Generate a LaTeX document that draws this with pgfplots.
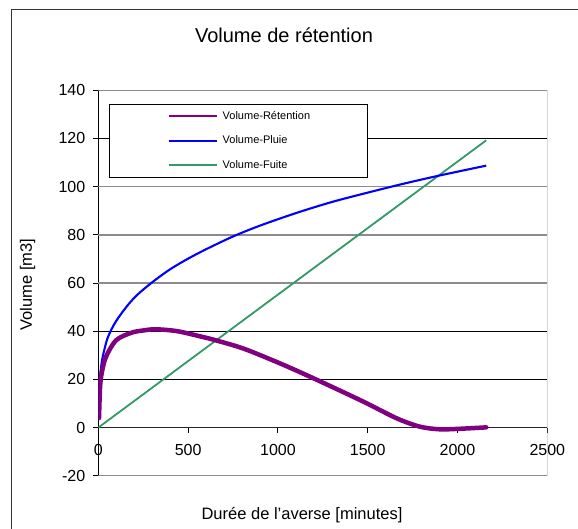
\documentclass[border=0pt]{standalone}
\usepackage{fontspec}
\setmainfont{Liberation Sans}
\usepackage{pgfplots}
\pgfplotsset{compat=1.18}
\definecolor{retcol}{RGB}{128,0,128}
\definecolor{pluiecol}{RGB}{0,0,255}
\definecolor{fuitecol}{RGB}{51,153,102}
\begin{document}
\begin{tikzpicture}[x=1pt,y=1pt]
\useasboundingbox (0,0) rectangle (578,528);
\clip (0,0) rectangle (578,528);
\fill[white] (0,0) rectangle (578,528);
\draw[black!80, line width=1pt] (11,-10) rectangle (600,518);
\node[font=\fontsize{20}{24}\selectfont] at (284,492.6) {Volume de rétention};
\node[font=\fontsize{16.5}{20}\selectfont] at (302,13) {Durée de l'averse [minutes]};
\node[font=\fontsize{16.5}{20}\selectfont, rotate=90] at (27.6,243.5) {Volume [m3]};
\begin{axis}[
  at={(98.3pt,52.2pt)}, anchor=south west,
  scale only axis, width=449pt, height=385.6pt,
  xmin=0, xmax=2500, ymin=-20, ymax=140,
  axis x line*=middle, axis y line*=left,
  x axis line style={-, black!85, line width=1pt},
  y axis line style={-, black, line width=1.4pt},
  xtick={0,500,...,2500}, ytick={-20,0,...,140},
  hide obscured x ticks=false, hide obscured y ticks=false,
  tick align=outside, major tick length=5.5pt,
  tick style={black, line width=0.9pt},
  tick label style={font=\fontsize{16}{19}\selectfont},
  xticklabel style={yshift=-8pt},
  yticklabel style={xshift=-4pt},
  /pgf/number format/assume math mode=true,
  /pgf/number format/1000 sep={},
  scaled ticks=false,
  ymajorgrids, major grid style={black, line width=0.7pt},
  extra y ticks={60,80,100}, extra y tick labels={},
  extra y tick style={grid=major, major grid style={gray!90, line width=1.6pt}},
  legend style={at={(0.0245,0.9642)}, anchor=north west, draw=black, fill=white,
    line width=0.8pt, inner xsep=0pt, inner ysep=5pt, row sep=11pt, column sep=3pt,
    font=\fontsize{11}{13}\selectfont},
  legend cell align=left,
  legend image code/.code={\path (-58pt,0pt); \draw[#1] (0pt,0pt) -- (48pt,0pt);},
]
\addlegendimage{retcol, line width=2pt}
\addlegendentry{\makebox[143pt][l]{Volume-Rétention}}
\addlegendimage{pluiecol, line width=2pt}
\addlegendentry{\makebox[143pt][l]{Volume-Pluie}}
\addlegendimage{fuitecol, line width=2pt}
\addlegendentry{\makebox[143pt][l]{Volume-Fuite}}

\addplot[fuitecol, line width=1.8pt, forget plot] coordinates {(0,0) (2160,119.2)};
\addplot[pluiecol, line width=2.1pt, smooth, line join=round, forget plot] coordinates {
(3,3.5) (5,15) (10,21.5) (20,27.5) (30,31.2) (50,36.8) (75,41) (100,44.3)
(130,47.5) (173,51.6) (220,55.3) (300,60.3) (400,65.7) (500,70.1) (600,74)
(750,79.3) (900,83.8) (1100,89) (1300,93.6) (1500,97.5) (1700,101.2)
(1900,104.6) (2160,108.7)};
\addplot[retcol, line width=4.5pt, smooth, line cap=round, line join=round, forget plot] coordinates {
(4,4) (10,17) (20,23) (43,29.4) (100,36.3) (186,39.4) (250,40.3) (320,40.8)
(440,40) (576,37.7) (650,36.3) (808,32.8) (1010,26.7) (1200,20.4)
(1475,10.8) (1660,3.9) (1790,0.4) (1900,-0.7) (2010,-0.5) (2160,0.1)};
\draw[gray!90, line width=1.6pt] (rel axis cs:0,0) -- (rel axis cs:1,0) -- (rel axis cs:1,1) -- (rel axis cs:0,1);
\end{axis}
\end{tikzpicture}
\end{document}
